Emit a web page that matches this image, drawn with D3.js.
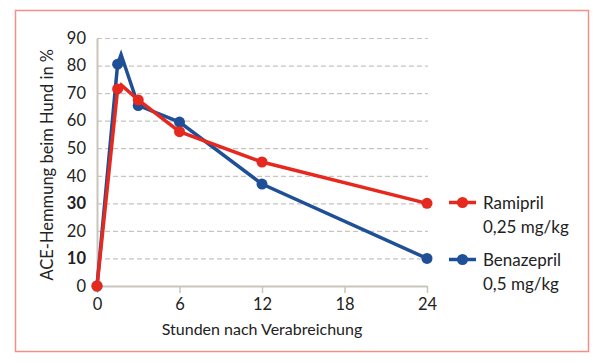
<!DOCTYPE html>
<html>
<head>
<meta charset="utf-8">
<script src="https://cdn.jsdelivr.net/npm/d3@7"></script>
<style>
  body { margin: 0; background: #fff; }
  text { font-family: Lato, 'Open Sans', sans-serif; fill: #222; }
</style>
</head>
<body>
<div id="chart"></div>
<script>
// data
let hours = [0, 1.5, 1.75, 3, 6, 12, 24];
let ramipril = [0, 71.5, 73, 67.5, 56, 45, 30];
let benazepril = [0, 80.5, 84, 65.5, 59.5, 37, 10];
// the peak vertex at 1.75 h has no marker
let markerHours = [0, 1.5, 3, 6, 12, 24];
let xTicks = [0, 6, 12, 18, 24];
let yTicks = [0, 10, 20, 30, 40, 50, 60, 70, 80, 90];
let boldTicks = [10, 30];
let seriesNames = ['Ramipril', 'Benazepril'];
let seriesDoses = ['0,25 mg/kg', '0,5 mg/kg'];
let seriesColors = ['#e5291f', '#1f4f96'];

let width = 600;
let height = 363;
let fontFamily = "Lato, 'Open Sans', sans-serif";

let svg = d3.select('#chart')
  .append('svg')
  .attr('width', width)
  .attr('height', height);

// outer frame
svg.append('rect')
  .attr('x', 15.5)
  .attr('y', 10.5)
  .attr('width', 573)
  .attr('height', 341)
  .attr('fill', 'none')
  .attr('stroke', '#f29087')
  .attr('stroke-width', 1.5);

let x = d3.scaleLinear().domain([0, 24]).range([97, 427]);
let y = d3.scaleLinear().domain([0, 90]).range([286, 38]);

// dashed gridlines
svg.append('g')
  .selectAll('line')
  .data(yTicks.filter(d => d > 0))
  .enter()
  .append('line')
  .attr('x1', x(0))
  .attr('x2', x(24) + 1)
  .attr('y1', d => y(d) + 0.5)
  .attr('y2', d => y(d) + 0.5)
  .attr('stroke', '#c9c5bd')
  .attr('stroke-width', 1.2)
  .attr('stroke-dasharray', '5,3');

// y axis
let yAxis = svg.append('g')
  .attr('transform', `translate(${x(0)},0)`)
  .call(d3.axisLeft(y).tickValues(yTicks).tickSize(0).tickPadding(11));
yAxis.select('.domain').attr('stroke', '#c9c5bd').attr('stroke-width', 2);
yAxis.selectAll('text')
  .attr('font-size', 16.5)
  .attr('font-family', fontFamily)
  .attr('fill', '#222')
  .attr('font-weight', d => boldTicks.includes(d) ? 'bold' : 'normal');

// x axis
let xAxis = svg.append('g')
  .attr('transform', `translate(0,${y(0)})`)
  .call(d3.axisBottom(x).tickValues(xTicks).tickSize(7).tickSizeOuter(0).tickPadding(5));
xAxis.select('.domain').attr('stroke', '#c9c5bd').attr('stroke-width', 2);
xAxis.selectAll('.tick line').attr('stroke', '#c9c5bd').attr('stroke-width', 1.5);
xAxis.selectAll('text')
  .attr('font-size', 16.5)
  .attr('font-family', fontFamily)
  .attr('fill', '#222');

// axis titles
svg.append('text')
  .attr('transform', `translate(53,${y(44)}) rotate(-90)`)
  .attr('text-anchor', 'middle')
  .attr('font-size', 16.5)
  .text('ACE-Hemmung beim Hund in %');

svg.append('text')
  .attr('x', x(12))
  .attr('y', 335)
  .attr('text-anchor', 'middle')
  .attr('font-size', 16)
  .text('Stunden nach Verabreichung');

// series, blue first so red sits on top
let line = d3.line()
  .x(d => x(d[0]))
  .y(d => y(d[1]));

let series = [ramipril, benazepril];
[1, 0].forEach(i => {
  let pts = hours.map((h, j) => [h, series[i][j]]);
  let g = svg.append('g');
  g.append('path')
    .attr('d', line(pts))
    .attr('fill', 'none')
    .attr('stroke', seriesColors[i])
    .attr('stroke-width', 3.5)
    .attr('stroke-linejoin', 'miter');
  g.selectAll('circle')
    .data(pts.filter(p => markerHours.includes(p[0])))
    .enter()
    .append('circle')
    .attr('cx', d => x(d[0]))
    .attr('cy', d => y(d[1]))
    .attr('r', 5.5)
    .attr('fill', seriesColors[i]);
});

// legend
let legendY = [202.5, 259.5];
seriesNames.forEach((name, i) => {
  let g = svg.append('g').attr('transform', `translate(449,${legendY[i]})`);
  g.append('line')
    .attr('x1', 0).attr('x2', 27)
    .attr('stroke', seriesColors[i])
    .attr('stroke-width', 3.5);
  g.append('circle')
    .attr('cx', 13.5)
    .attr('r', 5.5)
    .attr('fill', seriesColors[i]);
  g.append('text')
    .attr('x', 34)
    .attr('y', 6)
    .attr('font-size', 17)
    .text(name);
  g.append('text')
    .attr('x', 34)
    .attr('y', 30.5)
    .attr('font-size', 17)
    .text(seriesDoses[i]);
});
</script>
</body>
</html>
